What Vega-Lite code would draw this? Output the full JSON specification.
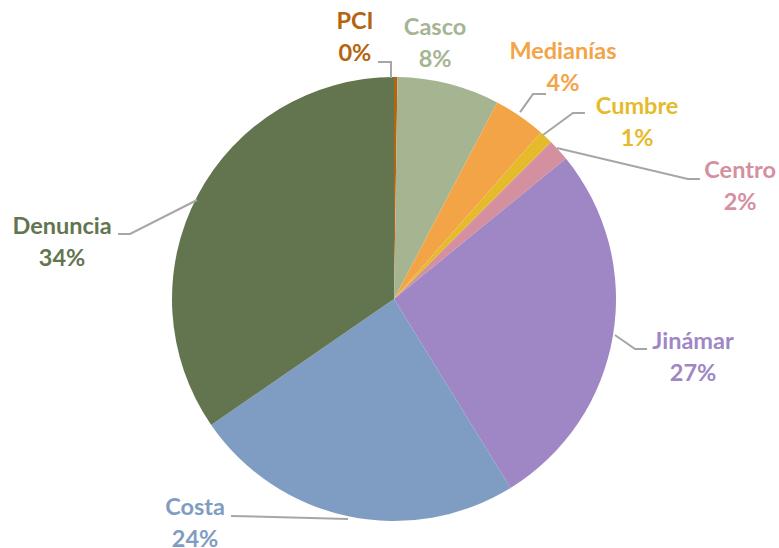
{
  "$schema": "https://vega.github.io/schema/vega-lite/v6.json",
  "width": 788,
  "height": 598,
  "autosize": {"type": "none"},
  "padding": 0,
  "background": "white",
  "config": {"view": {"stroke": null}},
  "datasets": {
    "slices": [
      {"name": "PCI", "order": 1, "value": 0.25},
      {"name": "Casco", "order": 2, "value": 7.45},
      {"name": "Medianías", "order": 3, "value": 3.8},
      {"name": "Cumbre", "order": 4, "value": 1.0},
      {"name": "Centro", "order": 5, "value": 1.6},
      {"name": "Jinámar", "order": 6, "value": 27.1},
      {"name": "Costa", "order": 7, "value": 24.2},
      {"name": "Denuncia", "order": 8, "value": 34.6}
    ],
    "labels": [
      {"name": "PCI", "text": "PCI\n0%", "lx": -17.6, "ly": 124.8},
      {"name": "Casco", "text": "Casco\n8%", "lx": 18.5, "ly": 122.1},
      {"name": "Medianías", "text": "Medianías\n4%", "lx": 76.1, "ly": 111.3},
      {"name": "Cumbre", "text": "Cumbre\n1%", "lx": 109.5, "ly": 86.5},
      {"name": "Centro", "text": "Centro\n2%", "lx": 155.9, "ly": 57.7},
      {"name": "Jinámar", "text": "Jinámar\n27%", "lx": 134.7, "ly": -19.4},
      {"name": "Costa", "text": "Costa\n24%", "lx": -89.6, "ly": -94.1},
      {"name": "Denuncia", "text": "Denuncia\n34%", "lx": -149.5, "ly": 32.4}
    ],
    "leaders": [
      {"name": "PCI", "i": 1, "lx": -1.35, "ly": 99.5},
      {"name": "PCI", "i": 2, "lx": -1.35, "ly": 106.8},
      {"name": "PCI", "i": 3, "lx": -7.2, "ly": 106.8},
      {"name": "Medianías", "i": 1, "lx": 56.8, "ly": 84.2},
      {"name": "Medianías", "i": 2, "lx": 62.6, "ly": 92.3},
      {"name": "Medianías", "i": 3, "lx": 68.5, "ly": 92.3},
      {"name": "Cumbre", "i": 1, "lx": 67.1, "ly": 73.9},
      {"name": "Cumbre", "i": 2, "lx": 80.6, "ly": 83.8},
      {"name": "Cumbre", "i": 3, "lx": 86.0, "ly": 83.8},
      {"name": "Centro", "i": 1, "lx": 73.4, "ly": 68.0},
      {"name": "Centro", "i": 2, "lx": 132.4, "ly": 54.1},
      {"name": "Centro", "i": 3, "lx": 137.8, "ly": 54.1},
      {"name": "Denuncia", "i": 1, "lx": -88.7, "ly": 44.6},
      {"name": "Denuncia", "i": 2, "lx": -118.9, "ly": 29.3},
      {"name": "Denuncia", "i": 3, "lx": -124.3, "ly": 29.3},
      {"name": "Jinámar", "i": 1, "lx": 99.5, "ly": -16.2},
      {"name": "Jinámar", "i": 2, "lx": 108.6, "ly": -22.5},
      {"name": "Jinámar", "i": 3, "lx": 114.0, "ly": -22.5},
      {"name": "Costa", "i": 1, "lx": -20.7, "ly": -99.1},
      {"name": "Costa", "i": 2, "lx": -73.4, "ly": -97.7}
    ]
  },
  "layer": [
    {
      "data": {"name": "slices"},
      "mark": {"type": "arc", "outerRadius": 222},
      "encoding": {
        "theta": {"field": "value", "type": "quantitative", "stack": true},
        "order": {"field": "order", "type": "quantitative", "sort": "ascending"},
        "color": {
          "field": "name", "type": "nominal", "legend": null,
          "scale": {
            "domain": ["PCI", "Casco", "Medianías", "Cumbre", "Centro", "Jinámar", "Costa", "Denuncia"],
            "range": ["#B5650F", "#A5B592", "#F3A447", "#E6BB2B", "#D4909F", "#9E87C4", "#7F9DC2", "#63754F"]
          }
        }
      }
    },
    {
      "data": {"name": "leaders"},
      "mark": {"type": "line", "color": "#A6A6A6", "strokeWidth": 2},
      "encoding": {
        "x": {"field": "lx", "type": "quantitative", "axis": null, "scale": {"domain": [-177.48, 177.48], "nice": false, "zero": false}},
        "y": {"field": "ly", "type": "quantitative", "axis": null, "scale": {"domain": [-134.68, 134.68], "nice": false, "zero": false}},
        "detail": {"field": "name", "type": "nominal"},
        "order": {"field": "i", "type": "quantitative"}
      }
    },
    {
      "data": {"name": "labels"},
      "mark": {"type": "text", "font": "Lato", "fontWeight": "bold", "fontSize": 23.5, "lineBreak": "\n", "lineHeight": 32, "align": "center", "baseline": "middle"},
      "encoding": {
        "x": {"field": "lx", "type": "quantitative"},
        "y": {"field": "ly", "type": "quantitative"},
        "text": {"field": "text", "type": "nominal"},
        "color": {"field": "name", "type": "nominal", "legend": null}
      }
    }
  ]
}
